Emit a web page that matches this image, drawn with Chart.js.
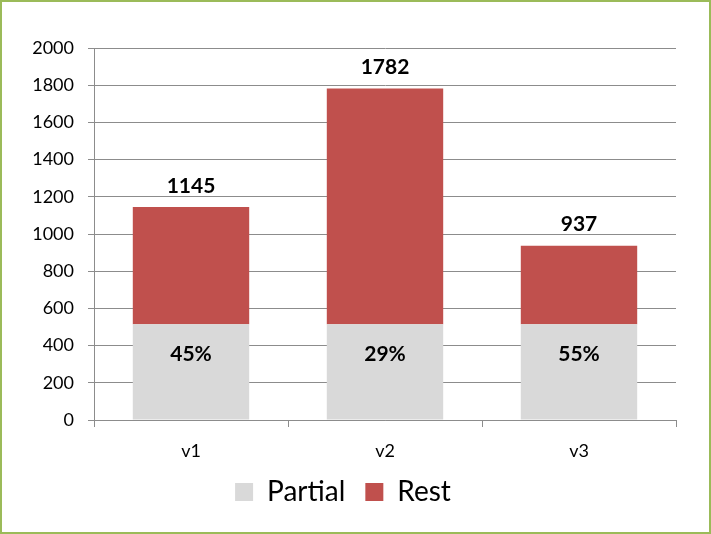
<!DOCTYPE html>
<html>
<head>
<meta charset="utf-8">
<script src="https://cdn.jsdelivr.net/npm/chart.js@4/dist/chart.umd.min.js"></script>
<style>
  html, body { margin: 0; padding: 0; background: #fff; }
  #wrap { position: relative; width: 711px; height: 534px; box-sizing: border-box; border: 2px solid #9bbb59; }
  canvas { position: absolute; left: -2px; top: -2px; }
</style>
</head>
<body>
<div id="wrap"><canvas id="chart" width="711" height="534"></canvas></div>
<script>
const categories = ['v1', 'v2', 'v3'];
const partial = [515, 515, 515];
const rest = [630, 1267, 422];
const yTicks = [0, 200, 400, 600, 800, 1000, 1200, 1400, 1600, 1800, 2000];

const FONT = 'Lato, "Open Sans", sans-serif';

// totals above bars, share of Partial inside the grey part
const barLabels = {
  id: 'barLabels',
  afterDatasetsDraw(chart) {
    const ctx = chart.ctx;
    const partMeta = chart.getDatasetMeta(0);
    const restMeta = chart.getDatasetMeta(1);
    ctx.save();
    ctx.fillStyle = '#000';
    ctx.font = 'bold 21px ' + FONT;
    ctx.textAlign = 'center';
    ctx.textBaseline = 'middle';
    categories.forEach((c, i) => {
      const total = partial[i] + rest[i];
      const top = restMeta.data[i];
      ctx.fillText(String(total), top.x, top.y - 21);
      const pb = partMeta.data[i];
      const pct = Math.round(partial[i] / total * 100) + '%';
      ctx.fillText(pct, pb.x, pb.y + 30);
    });
    ctx.restore();
  }
};

new Chart(document.getElementById('chart'), {
  type: 'bar',
  data: {
    labels: categories,
    datasets: [
      { label: 'Partial', data: partial, backgroundColor: '#d9d9d9' },
      { label: 'Rest', data: rest, backgroundColor: '#c0504d' }
    ]
  },
  options: {
    responsive: false,
    animation: false,
    layout: { padding: { left: 10, right: 35, top: 48, bottom: 18 } },
    datasets: { bar: { barPercentage: 0.6, categoryPercentage: 1 } },
    plugins: {
      legend: {
        position: 'bottom',
        labels: {
          font: { family: FONT, size: 28 },
          color: '#000',
          boxWidth: 18,
          boxHeight: 18,
          padding: 20
        }
      },
      tooltip: { enabled: false }
    },
    scales: {
      x: {
        stacked: true,
        grid: { display: true, drawOnChartArea: false, offset: true, color: '#8c8c8c', tickLength: 7 },
        border: { color: '#8c8c8c' },
        ticks: { font: { family: FONT, size: 18 }, color: '#000', padding: 13 },
        afterFit(scale) { scale.height = 38; }
      },
      y: {
        stacked: true,
        min: 0,
        max: 2000,
        afterBuildTicks(scale) { scale.ticks = yTicks.map(v => ({ value: v })); },
        grid: { color: '#8c8c8c', tickLength: 6 },
        border: { color: '#8c8c8c' },
        ticks: { font: { family: FONT, size: 18 }, color: '#000', padding: 14, callback: v => String(v) },
        afterFit(scale) { scale.width = 84; }
      }
    }
  },
  plugins: [barLabels]
});
</script>
</body>
</html>
